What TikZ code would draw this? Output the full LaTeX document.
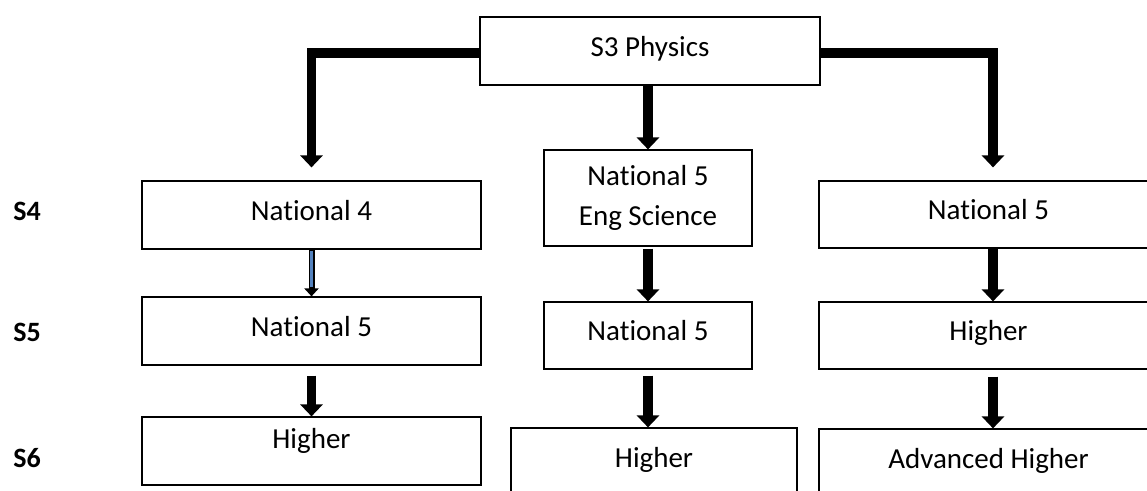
\documentclass[tikz,border=0pt]{standalone}
\usepackage{fontspec}
\setmainfont[Ligatures=NoCommon]{Carlito}
\usetikzlibrary{arrows.meta}
\definecolor{shaftblue}{RGB}{84,130,190}

\begin{document}
\begin{tikzpicture}[x=1pt,y=-1pt,line join=miter,
		box/.style={draw,line width=1.2pt,minimum height=68pt,inner sep=0pt,align=center,text height=21pt,text depth=11pt,font=\fontsize{29}{40}\selectfont},
		yearlbl/.style={font=\fontsize{28}{34}\selectfont\bfseries},
		fatarrow/.style={line width=9.5pt,-{Triangle[width=22pt,length=12pt]}},
		thinarrow/.style={line width=6pt,-{Triangle[width=14pt,length=8pt]},postaction={draw,shaftblue,line width=3pt,-,shorten >=9pt,shorten <=1pt}}]
		\useasboundingbox (0,0) rectangle (1147,490);
		%	top box and the three columns
		\node[box,minimum width=340pt] (s3) at (650,51) {S3 Physics};
		\node[box,minimum width=339pt] (n4) at (311.5,215) {National 4};
		\node[box,minimum width=208pt,minimum height=96pt,text height=,text depth=] (eng) at (648,198) {National 5\\Eng Science};
		\node[box,minimum width=339pt,minimum height=67pt] (n5r) at (988.5,214.5) {National 5};
		\node[box,minimum width=339pt] (n5l) at (311.5,331) {National 5};
		\node[box,minimum width=208pt,minimum height=67pt] (n5m) at (648,335.5) {National 5};
		\node[box,minimum width=339pt,minimum height=67pt] (hr) at (988.5,335.5) {Higher};
		\node[box,minimum width=339pt,text depth=27pt] (hl) at (311.5,451) {Higher};
		\node[box,minimum width=286pt] (hm) at (654,462) {Higher};
		\node[box,minimum width=339pt] (ah) at (988.5,463) {Advanced Higher};
		\coordinate (rcol) at (993,0);
		%	year labels
		\node[yearlbl] (y4) at (27,211) {S4};
		\node[yearlbl] (y5) at (27,332) {S5};
		\node[yearlbl] (y6) at (27,458) {S6};
		%	arrows
		\draw[fatarrow,shorten >=13pt] ([yshift=-2pt]s3.west) -| (n4.north);
		\draw[fatarrow] (s3.south -| eng.north) -- (eng.north);
		\draw[fatarrow,shorten >=13pt] ([yshift=-2pt]s3.east) -| (n5r.north -| rcol);
		\draw[thinarrow] (n4.south) -- (n5l.north);
		\draw[fatarrow] ([yshift=-10pt]n5l.south) -- (hl.north);
		\draw[fatarrow] ([yshift=-2pt]eng.south) -- (n5m.north);
		\draw[fatarrow] ([yshift=-6pt]n5m.south) -- (hm.north -| n5m.south);
		\draw[fatarrow] (n5r.south -| rcol) -- (hr.north -| rcol);
		\draw[fatarrow] ([yshift=-7pt]hr.south -| rcol) -- (ah.north -| rcol);
\end{tikzpicture}
\end{document}
